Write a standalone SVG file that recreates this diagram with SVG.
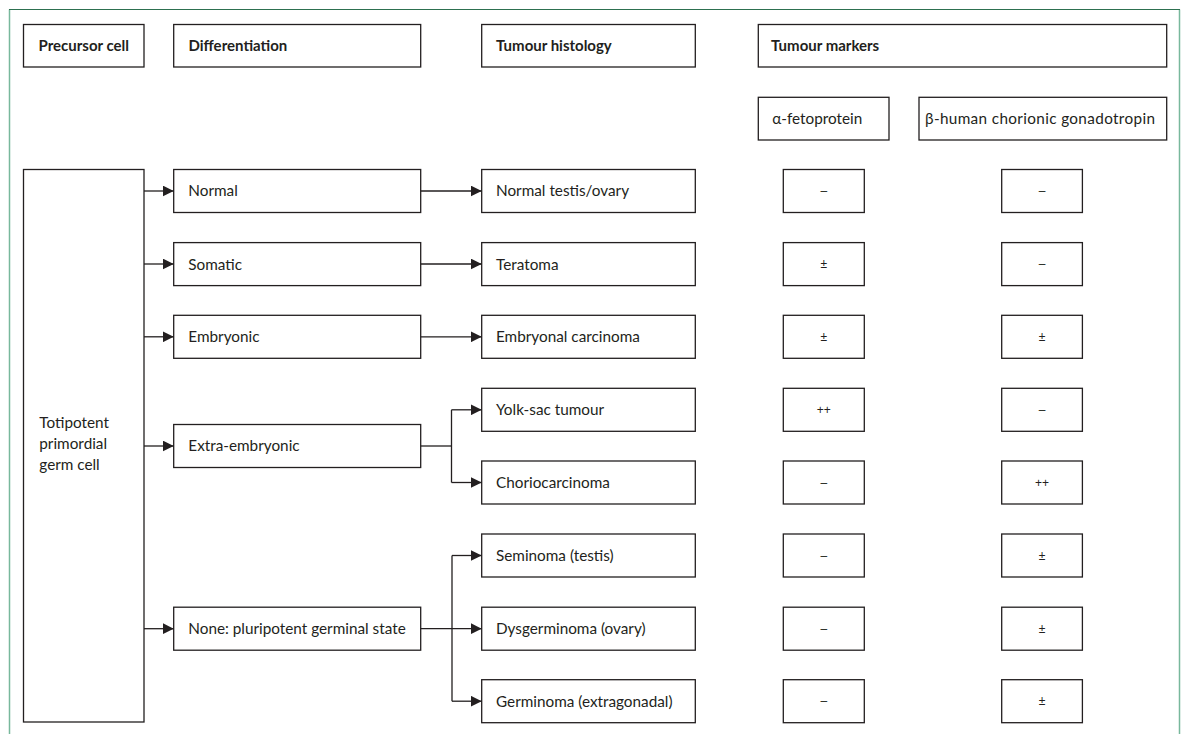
<svg xmlns="http://www.w3.org/2000/svg" width="1184" height="734" viewBox="0 0 1184 734">
<defs>
<style>
.box{fill:#fff;stroke:#231f20;stroke-width:1.3}
.h{font-family:Lato,"Liberation Sans",sans-serif;font-weight:bold;font-size:15px;fill:#231f20}
.t{font-family:Lato,"Liberation Sans",sans-serif;font-size:15.3px;fill:#231f20}
.m{font-family:"Liberation Sans",Arial,sans-serif;font-size:12px;fill:#231f20;text-anchor:middle}
.c{fill:none;stroke:#231f20;stroke-width:1.3}
</style>
<marker id="ah" viewBox="0 0 10 10" refX="10" refY="5" markerWidth="11" markerHeight="11" markerUnits="userSpaceOnUse" orient="auto">
<path d="M0,0 L10,5 L0,10 Z" fill="#231f20"/>
</marker>
</defs>
<rect width="1184" height="734" fill="#fff"/>
<g id="frame">
<line x1="9.5" y1="9.5" x2="9.5" y2="734" stroke="#78b89c" stroke-width="1.5"/>
<line x1="1179.5" y1="9.5" x2="1179.5" y2="734" stroke="#78b89c" stroke-width="1.5"/>
<line x1="9" y1="9.5" x2="1180" y2="9.5" stroke="#2d7050" stroke-width="1.2"/>
</g>
<g id="hdr-precursor"><rect class="box" x="23.5" y="24.5" width="120.5" height="42.5"/><text class="h" x="38.5" y="50.5">Precursor cell</text></g>
<g id="hdr-diff"><rect class="box" x="173.7" y="24.5" width="247" height="42.5"/><text class="h" x="188.5" y="50.5">Differentiation</text></g>
<g id="hdr-hist"><rect class="box" x="481.7" y="24.5" width="213.6" height="42.5"/><text class="h" x="496" y="50.5">Tumour histology</text></g>
<g id="hdr-markers"><rect class="box" x="758.3" y="24.5" width="408.4" height="42.5"/><text class="h" x="771" y="50.5">Tumour markers</text></g>
<g id="hdr-afp"><rect class="box" x="758.3" y="97.3" width="130.7" height="42.7"/><text class="t" x="772.3" y="124">α-fetoprotein</text></g>
<g id="hdr-bhcg"><rect class="box" x="919" y="97.3" width="247.7" height="42.7"/><text class="t" x="925" y="124" textLength="230" lengthAdjust="spacing">β-human chorionic gonadotropin</text></g>
<g id="precursor"><rect class="box" x="23.5" y="169.5" width="120.5" height="552.5"/>
<text class="t" x="39.3" y="428">Totipotent</text><text class="t" x="39.3" y="448.8">primordial</text><text class="t" x="39.3" y="469.6">germ cell</text></g>
<g id="d-normal"><rect class="box" x="173.7" y="169.5" width="247" height="43"/><text class="t" x="188.3" y="196.3">Normal</text></g>
<g id="d-somatic"><rect class="box" x="173.7" y="242.6" width="247" height="43"/><text class="t" x="188.3" y="269.5">Somatic</text></g>
<g id="d-embryonic"><rect class="box" x="173.7" y="315.3" width="247" height="43"/><text class="t" x="188.3" y="342.2">Embryonic</text></g>
<g id="d-extra"><rect class="box" x="173.7" y="424.5" width="247" height="43"/><text class="t" x="188.3" y="451.4">Extra-embryonic</text></g>
<g id="d-none"><rect class="box" x="173.7" y="607.2" width="247" height="43"/><text class="t" x="188.3" y="634.1">None: pluripotent germinal state</text></g>
<g id="h-normal"><rect class="box" x="481.7" y="169.5" width="213.6" height="43"/><text class="t" x="496" y="196.3">Normal testis/ovary</text></g>
<g id="h-teratoma"><rect class="box" x="481.7" y="242.6" width="213.6" height="43"/><text class="t" x="496" y="269.5">Teratoma</text></g>
<g id="h-embryonal"><rect class="box" x="481.7" y="315.3" width="213.6" height="43"/><text class="t" x="496" y="342.2">Embryonal carcinoma</text></g>
<g id="h-yolk"><rect class="box" x="481.7" y="388.3" width="213.6" height="43"/><text class="t" x="496" y="415.2">Yolk-sac tumour</text></g>
<g id="h-chorio"><rect class="box" x="481.7" y="461" width="213.6" height="43"/><text class="t" x="496" y="487.9">Choriocarcinoma</text></g>
<g id="h-seminoma"><rect class="box" x="481.7" y="534" width="213.6" height="43"/><text class="t" x="496" y="560.9">Seminoma (testis)</text></g>
<g id="h-dysgerm"><rect class="box" x="481.7" y="607.2" width="213.6" height="43"/><text class="t" x="496" y="634.1">Dysgerminoma (ovary)</text></g>
<g id="h-germinoma"><rect class="box" x="481.7" y="679.7" width="213.6" height="43"/><text class="t" x="496" y="706.6">Germinoma (extragonadal)</text></g>
<g id="markers">
<g id="m1"><rect class="box" x="783.3" y="169.5" width="81" height="43"/><text class="m" x="823.8" y="195.2">–</text><rect class="box" x="1001.7" y="169.5" width="80.7" height="43"/><text class="m" x="1042" y="195.2">–</text></g>
<g id="m2"><rect class="box" x="783.3" y="242.6" width="81" height="43"/><text class="m" x="823.8" y="268.3">±</text><rect class="box" x="1001.7" y="242.6" width="80.7" height="43"/><text class="m" x="1042" y="268.3">–</text></g>
<g id="m3"><rect class="box" x="783.3" y="315.3" width="81" height="43"/><text class="m" x="823.8" y="341">±</text><rect class="box" x="1001.7" y="315.3" width="80.7" height="43"/><text class="m" x="1042" y="341">±</text></g>
<g id="m4"><rect class="box" x="783.3" y="388.3" width="81" height="43"/><text class="m" x="823.8" y="414">++</text><rect class="box" x="1001.7" y="388.3" width="80.7" height="43"/><text class="m" x="1042" y="414">–</text></g>
<g id="m5"><rect class="box" x="783.3" y="461" width="81" height="43"/><text class="m" x="823.8" y="486.7">–</text><rect class="box" x="1001.7" y="461" width="80.7" height="43"/><text class="m" x="1042" y="486.7">++</text></g>
<g id="m6"><rect class="box" x="783.3" y="534" width="81" height="43"/><text class="m" x="823.8" y="559.7">–</text><rect class="box" x="1001.7" y="534" width="80.7" height="43"/><text class="m" x="1042" y="559.7">±</text></g>
<g id="m7"><rect class="box" x="783.3" y="607.2" width="81" height="43"/><text class="m" x="823.8" y="632.9">–</text><rect class="box" x="1001.7" y="607.2" width="80.7" height="43"/><text class="m" x="1042" y="632.9">±</text></g>
<g id="m8"><rect class="box" x="783.3" y="679.7" width="81" height="43"/><text class="m" x="823.8" y="705.4">–</text><rect class="box" x="1001.7" y="679.7" width="80.7" height="43"/><text class="m" x="1042" y="705.4">±</text></g>
</g>
<g id="connectors">
<path class="c" d="M144,191 H173.7" marker-end="url(#ah)"/>
<path class="c" d="M144,264 H173.7" marker-end="url(#ah)"/>
<path class="c" d="M144,336.8 H173.7" marker-end="url(#ah)"/>
<path class="c" d="M144,446 H173.7" marker-end="url(#ah)"/>
<path class="c" d="M144,628.7 H173.7" marker-end="url(#ah)"/>
<path class="c" d="M420.7,191 H481.7" marker-end="url(#ah)"/>
<path class="c" d="M420.7,264 H481.7" marker-end="url(#ah)"/>
<path class="c" d="M420.7,336.8 H481.7" marker-end="url(#ah)"/>
<path class="c" d="M420.7,446 H451.5"/>
<path class="c" d="M451.5,409.8 V482.5"/>
<path class="c" d="M451.5,409.8 H481.7" marker-end="url(#ah)"/>
<path class="c" d="M451.5,482.5 H481.7" marker-end="url(#ah)"/>
<path class="c" d="M420.7,628.7 H481.7" marker-end="url(#ah)"/>
<path class="c" d="M452,555.5 V701.2"/>
<path class="c" d="M452,555.5 H481.7" marker-end="url(#ah)"/>
<path class="c" d="M452,701.2 H481.7" marker-end="url(#ah)"/>
</g>
</svg>
